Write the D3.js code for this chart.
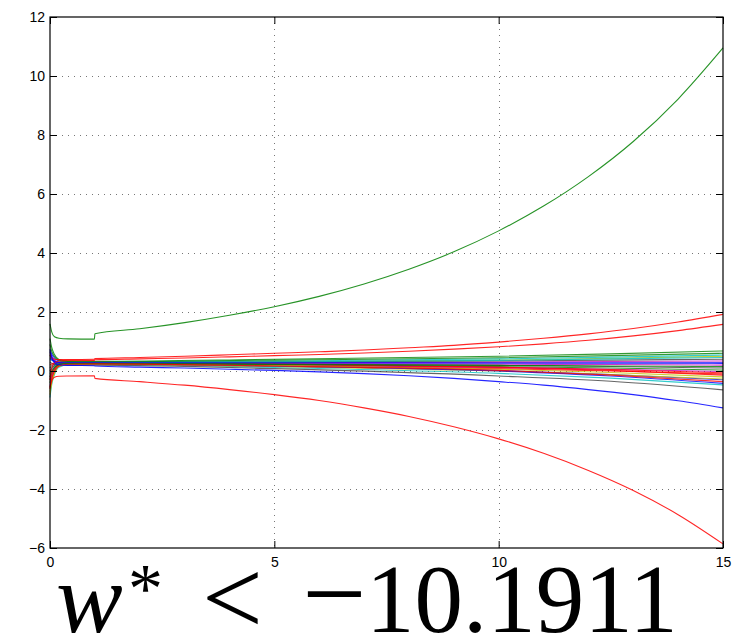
<!DOCTYPE html>
<html>
<head>
<meta charset="utf-8">
<script src="https://cdn.jsdelivr.net/npm/d3@7"></script>
<style>
  body { margin: 0; background: #fff; }
  .tick-label { font-family: "Liberation Sans", Arial, sans-serif; font-size: 14px; fill: #000; }
</style>
</head>
<body>
<div id="chart"></div>
<script>
// time grids
const tMain = [0, 0.04, 0.1, 0.2, 0.4, 0.99, 1, 2, 3, 4, 5, 6, 7, 8, 9, 10, 11, 12, 13, 14, 15];
const tCluster = [0, 0.04, 0.1, 0.2, 0.4, 1, 5, 10, 12.5, 15];

// the five lines that leave the bundle
const greenTop = [1.6, 1.32, 1.16, 1.11, 1.09, 1.08, 1.26, 1.43, 1.64, 1.89, 2.18, 2.53, 2.95, 3.45, 4.04, 4.75, 5.59, 6.59, 7.78, 9.22, 10.95];
const redTop = [0.55, 0.44, 0.4, 0.39, 0.39, 0.4, 0.42, 0.46, 0.5, 0.55, 0.6, 0.65, 0.71, 0.79, 0.87, 0.98, 1.11, 1.26, 1.44, 1.66, 1.92];
const redSecond = [-0.3, 0.1, 0.28, 0.34, 0.36, 0.36, 0.38, 0.41, 0.44, 0.48, 0.52, 0.56, 0.61, 0.67, 0.74, 0.82, 0.92, 1.04, 1.19, 1.37, 1.58];
const blueLow = [0.7, 0.45, 0.28, 0.21, 0.19, 0.18, 0.17, 0.13, 0.1, 0.06, 0.02, -0.03, -0.09, -0.16, -0.25, -0.36, -0.48, -0.63, -0.8, -1.01, -1.25];
const redBottom = [-0.55, -0.32, -0.21, -0.18, -0.17, -0.16, -0.25, -0.36, -0.48, -0.63, -0.8, -1.0, -1.25, -1.54, -1.89, -2.3, -2.79, -3.37, -4.05, -4.87, -5.86];
const mainSeries = [greenTop, redTop, redSecond, blueLow, redBottom];
const mainColors = ["#008000", "#ff0000", "#ff0000", "#0000ff", "#ff0000"];

// the bundle around zero
const clusterSeries = [
  [0.75, 0.57, 0.44, 0.34, 0.3, 0.3, 0.29, 0.27, 0.27, 0.28],
  [1.1, 0.79, 0.56, 0.39, 0.34, 0.33, 0.4, 0.5, 0.58, 0.68],
  [-0.6, -0.26, -0.01, 0.18, 0.25, 0.25, 0.2, 0.08, 0.0, -0.1],
  [-0.9, -0.45, -0.12, 0.13, 0.21, 0.22, 0.12, -0.08, -0.24, -0.47],
  [-0.2, -0.01, 0.13, 0.23, 0.27, 0.27, 0.28, 0.3, 0.32, 0.34],
  [0.5, 0.41, 0.35, 0.3, 0.28, 0.28, 0.31, 0.37, 0.43, 0.5],
  [0.3, 0.26, 0.23, 0.21, 0.2, 0.2, 0.08, -0.17, -0.35, -0.64],
  [0.65, 0.49, 0.36, 0.27, 0.24, 0.24, 0.16, 0.02, -0.12, -0.3],
  [-0.4, -0.14, 0.06, 0.21, 0.26, 0.26, 0.22, 0.15, 0.1, 0.03],
  [0.2, 0.24, 0.27, 0.29, 0.3, 0.3, 0.24, 0.12, 0.02, -0.14],
  [0.4, 0.36, 0.33, 0.31, 0.3, 0.3, 0.34, 0.41, 0.47, 0.54],
  [-0.5, -0.2, 0.02, 0.18, 0.24, 0.24, 0.2, 0.12, 0.06, -0.02],
  [-0.7, -0.33, -0.05, 0.16, 0.22, 0.23, 0.15, 0.0, -0.12, -0.27],
  [0.1, 0.18, 0.23, 0.27, 0.29, 0.29, 0.31, 0.34, 0.37, 0.4],
  [0.55, 0.43, 0.34, 0.27, 0.25, 0.25, 0.17, 0.0, -0.17, -0.42],
  [0.9, 0.66, 0.49, 0.36, 0.32, 0.31, 0.37, 0.45, 0.52, 0.6],
  [-0.3, -0.08, 0.09, 0.22, 0.26, 0.26, 0.22, 0.13, 0.05, -0.06],
  [-0.1, 0.05, 0.17, 0.25, 0.28, 0.28, 0.31, 0.36, 0.41, 0.46],
  [0.6, 0.46, 0.36, 0.29, 0.26, 0.26, 0.25, 0.23, 0.22, 0.2],
  [-0.8, -0.38, -0.07, 0.17, 0.24, 0.25, 0.19, 0.06, -0.05, -0.2],
  [0.0, 0.11, 0.19, 0.25, 0.27, 0.27, 0.24, 0.19, 0.15, 0.1],
  [0.45, 0.38, 0.33, 0.29, 0.28, 0.28, 0.28, 0.27, 0.27, 0.26],
  [-0.2, -0.02, 0.12, 0.21, 0.25, 0.25, 0.22, 0.19, 0.17, 0.15],
  [-0.6, -0.26, -0.01, 0.17, 0.23, 0.24, 0.17, 0.02, -0.14, -0.36]
];
// MATLAB's old colour order
const colorOrder = ["#0000ff", "#008000", "#ff0000", "#00bfbf", "#bf00bf", "#bfbf00", "#404040"];

const xTicks = [0, 5, 10, 15];
const yTicks = [-6, -4, -2, 0, 2, 4, 6, 8, 10, 12];

const W = 744, H = 638;
const margin = { top: 17, right: 21, bottom: 90, left: 50 };
const width = W - margin.left - margin.right;
const height = H - margin.top - margin.bottom;

const svg = d3.select("#chart").append("svg")
    .attr("width", W)
    .attr("height", H)
    .style("display", "block");

const g = svg.append("g")
    .attr("transform", `translate(${margin.left},${margin.top})`);

const x = d3.scaleLinear().domain([0, 15]).range([0, width]);
const y = d3.scaleLinear().domain([-6, 12]).range([height, 0]);

// dotted grid
g.selectAll(".vgrid")
    .data(xTicks.slice(1, -1))
    .enter().append("line")
    .attr("x1", d => Math.round(x(d)) + 0.5)
    .attr("x2", d => Math.round(x(d)) + 0.5)
    .attr("y1", 0).attr("y2", height)
    .attr("stroke", "#777")
    .attr("stroke-width", 1)
    .attr("stroke-dasharray", "1,5");

g.selectAll(".hgrid")
    .data(yTicks.slice(1, -1))
    .enter().append("line")
    .attr("x1", 0).attr("x2", width)
    .attr("y1", d => Math.round(y(d)) + 0.5)
    .attr("y2", d => Math.round(y(d)) + 0.5)
    .attr("stroke", "#777")
    .attr("stroke-width", 1)
    .attr("stroke-dasharray", "1,5");

const line = d3.line().curve(d3.curveMonotoneX);
const plot = g.append("g");

clusterSeries.forEach((vals, i) => {
    plot.append("path")
        .attr("d", line(vals.map((v, j) => [x(tCluster[j]), y(v)])))
        .attr("fill", "none")
        .attr("stroke", colorOrder[i % colorOrder.length])
        .attr("stroke-width", 1.1)
        .attr("opacity", 0.8);
});

mainSeries.forEach((vals, i) => {
    plot.append("path")
        .attr("d", line(vals.map((v, j) => [x(tMain[j]), y(v)])))
        .attr("fill", "none")
        .attr("stroke", mainColors[i])
        .attr("stroke-width", 1.1)
        .attr("opacity", 0.85);
});

// axes on all four sides, ticks pointing inward
g.append("g")
    .attr("transform", `translate(0,${height})`)
    .call(d3.axisBottom(x).tickValues(xTicks).tickSizeInner(-7).tickSizeOuter(0).tickPadding(9))
    .call(a => a.selectAll("text").attr("class", "tick-label"));
g.append("g")
    .call(d3.axisTop(x).tickValues(xTicks).tickSizeInner(-7).tickSizeOuter(0).tickFormat(""));
g.append("g")
    .call(d3.axisLeft(y).tickValues(yTicks).tickSizeInner(-7).tickSizeOuter(0).tickPadding(5))
    .call(a => a.selectAll("text").attr("class", "tick-label"));
g.append("g")
    .attr("transform", `translate(${width},0)`)
    .call(d3.axisRight(y).tickValues(yTicks).tickSizeInner(-7).tickSizeOuter(0).tickFormat(""));
g.selectAll(".domain").remove();
g.selectAll(".tick line").attr("stroke", "#000");

g.append("rect")
    .attr("x", 0).attr("y", 0)
    .attr("width", width).attr("height", height)
    .attr("fill", "none")
    .attr("stroke", "#000")
    .attr("stroke-width", 1.2);

// the big caption under the axes
const serif = "Liberation Serif";
svg.append("text").attr("x", 56).attr("y", 632).attr("font-family", serif)
    .attr("font-size", 100).attr("font-style", "italic").text("w");
svg.append("text").attr("x", 128).attr("y", 612).attr("font-family", serif)
    .attr("font-size", 70).text("*");
svg.append("text").attr("x", 202).attr("y", 634).attr("font-family", serif)
    .attr("font-size", 108).text("<");
svg.append("text").attr("x", 302).attr("y", 632).attr("font-family", serif)
    .attr("font-size", 114).text("\u2212");
svg.append("text").attr("x", 366).attr("y", 632).attr("font-family", serif)
    .attr("font-size", 97).text("10.1911");
</script>
</body>
</html>
